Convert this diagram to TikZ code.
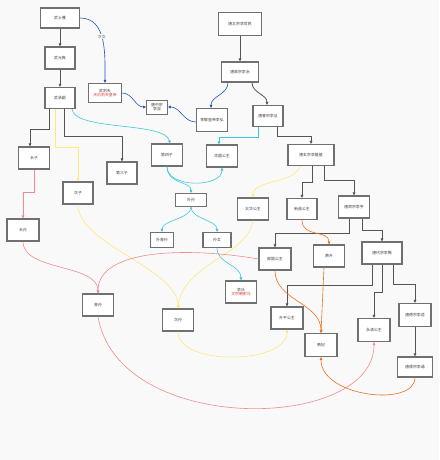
\documentclass[tikz,border=0pt]{standalone}
\usepackage{fontspec}
\newfontfamily\cjk{Noto Sans CJK SC}
\usetikzlibrary{arrows.meta}
\definecolor{bgcol}{HTML}{F9F9F9}
\definecolor{boxgray}{HTML}{707070}
\definecolor{linegray}{HTML}{555555}
\definecolor{blueedge}{HTML}{2056B8}
\definecolor{cyanedge}{HTML}{3CC8DC}
\definecolor{yellowedge}{HTML}{FFE97A}
\definecolor{redpink}{HTML}{EE8C8C}
\definecolor{orangeedge}{HTML}{F0701E}
\definecolor{notered}{HTML}{D83A3A}
\begin{document}
\begin{tikzpicture}[
                x=1pt, y=-1pt,
                person/.style={
                    draw=boxgray,
                    fill=white,
                    rectangle,
                    line width=1.1pt,
                    minimum width=31pt,
                    minimum height=22pt,
                    inner sep=0pt,
                    align=center,
                    font=\cjk\fontsize{3.9}{4.8}\selectfont,
                    text=black!75
                },
                link/.style={
                    -{Triangle[length=3pt,width=2.6pt]},
                    line width=0.6pt
                },
                blackline/.style={link, draw=linegray, line width=0.8pt},
                blueline/.style={link, draw=blueedge},
                cyanline/.style={link, draw=cyanedge},
                yellowline/.style={link, draw=yellowedge},
                redline/.style={link, draw=redpink},
                orangeline/.style={link, draw=orangeedge},
                lbl/.style={fill=bgcol, inner sep=0.8pt, font=\cjk\fontsize{3.9}{4.8}\selectfont, text=black!60}
            ]
    \fill[bgcol] (0,0) rectangle (439,460);

    % Wu family column
    \node[person, minimum width=39pt, minimum height=20pt] (shiyue) at (60,18) {武士彟};
    \node[person, minimum width=30pt] (yuanshuang) at (60,58) {武元爽};
    \node[person, minimum width=30pt, minimum height=21pt] (chengsi) at (60,98) {武承嗣};
    \node[person, minimum width=33pt, minimum height=19pt] (zetian) at (105,93) {武则天\\\textcolor{notered}{天后则天皇帝}};
    \node[person, minimum width=21pt, minimum height=14pt, line width=0.8pt] (zhongzong) at (157,107) {唐中宗\\李显};
    \node[person, minimum width=31pt, minimum height=23pt] (lihong) at (212,120) {孝敬皇帝李弘};

    \node[person] (changzi) at (34,158) {长子};
    \node[person, minimum width=32pt] (changsun) at (23,230) {长孙};
    \node[person, minimum width=30pt] (cizi) at (78,193) {次子};
    \node[person, minimum width=30pt] (sanzi) at (122,173) {第三子};
    \node[person] (sizi) at (167,155) {第四子};
    \node[person] (liangguo) at (222,156) {凉国公主};
    \node[person, minimum height=13pt] (waisun) at (191,200) {外孙};
    \node[person, minimum width=23pt, minimum height=15pt] (zengsun) at (162,240) {外曾孙};
    \node[person, minimum width=28pt, minimum height=15pt] (sunnv) at (217,240) {孙女};
    \node[person] (lishi) at (241,292) {李氏\\\textcolor{notered}{文宗朝驸马}};
    \node[person] (chongsun) at (98,305) {曾孙};
    \node[person] (cisun) at (178,320) {次孙};

    % Tang emperors
    \node[person, minimum width=43pt, minimum height=23pt] (taizong) at (240,24) {唐太宗李世民};
    \node[person, minimum width=37pt, minimum height=20pt] (gaozong) at (240,72) {唐高宗李治};
    \node[person, minimum width=30pt, minimum height=21pt] (ruizong) at (268,116) {唐睿宗李旦};
    \node[person, minimum width=46pt, minimum height=21pt] (xuanzong) at (311,155) {唐玄宗李隆基};
    \node[person] (suzong) at (354,207) {唐肃宗李亨};
    \node[person, minimum width=40pt] (daizong) at (382,253) {唐代宗李豫};
    \node[person, minimum width=32pt, minimum height=23pt] (dezong) at (415,315) {唐德宗李适};
    \node[person, minimum width=35pt, minimum height=20pt] (shunzong) at (415,367) {唐顺宗李诵};

    % princesses and in-laws
    \node[person] (taihua) at (253,209) {太华公主};
    \node[person, minimum width=30pt, minimum height=21pt] (xinchang) at (302,209) {新昌公主};
    \node[person, minimum width=32pt] (gaoguo) at (275,259) {郜国公主};
    \node[person] (xiaosheng) at (329,256) {萧升};
    \node[person, minimum width=32pt] (shengping) at (287,318) {升平公主};
    \node[person, minimum width=32pt, minimum height=23pt] (xiaofei) at (321,345) {萧妃};
    \node[person, minimum width=32pt, minimum height=23pt] (yongqing) at (374,330) {永清公主};

    % black lines
    \draw[blackline] (shiyue) -- (yuanshuang);
    \draw[blackline] (yuanshuang) -- (chengsi);
    \draw[blackline] ([xshift=-11pt]chengsi.south) -- ++(0,20) -| ([xshift=-4pt]changzi.north);
    \draw[blackline] ([xshift=4pt]chengsi.south) -- ++(0,27) -| (sanzi.north);
    \draw[blackline] (taizong) -- (gaozong);
    \draw[blackline] ([xshift=12pt]gaozong.south) to[out=-90,in=90] ([xshift=-1pt]ruizong.north);
    \draw[blackline] ([xshift=9pt]ruizong.south) -- ++(0,9) -| (xuanzong.north);
    \draw[blackline] ([xshift=1pt]xuanzong.south) -- ++(0,16) -| (xinchang.north);
    \draw[blackline] ([xshift=13pt]xuanzong.south) -- ++(0,14) -| (suzong.north);
    \draw[blackline] ([xshift=-5pt]suzong.south) -- ++(0,15) -| (gaoguo.north);
    \draw[blackline] ([xshift=8pt]suzong.south) -- ++(0,12) -| (daizong.north);
    \draw[blackline] ([xshift=-10pt]daizong.south) -- ++(0,21) -| (shengping.north);
    \draw[blackline] (daizong.south) -- ++(0,28) -| (yongqing.north);
    \draw[blackline] ([xshift=11pt]daizong.south) -- ++(0,20) -| (dezong.north);
    \draw[blackline] (dezong) -- (shunzong);

    % blue lines
    \draw[blueline] (shiyue.east) to[out=0,in=90] node[lbl, pos=0.45] {次女} (zetian.north);
    \draw[blueline] (zetian.east) to[out=0,in=180] (zhongzong.west);
    \draw[blueline] ([xshift=-12pt]gaozong.south) to[out=-90,in=90] ([xshift=-1pt]lihong.north);
    \draw[blueline] ([yshift=-2pt]lihong.west) to[out=180,in=0] (zhongzong.east);

    % cyan lines
    \draw[cyanline] ([xshift=12pt]chengsi.south) .. controls +(2,22) and +(-5,-22) .. ([xshift=3pt]sizi.north);
    \draw[cyanline] ([xshift=-10pt]ruizong.south) -- ++(0,10) -| ([xshift=-3pt]liangguo.north);
    \draw[cyanline] (sizi.south) .. controls +(0,22) and +(0,20) .. (liangguo.south);
    \draw[cyanline] (sizi.south) .. controls +(0,18) and +(0,-12) .. (waisun.north);
    \draw[cyanline] (waisun.south) .. controls +(0,12) and +(0,-12) .. (zengsun.north);
    \draw[cyanline] (waisun.south) .. controls +(0,12) and +(0,-12) .. (sunnv.north);
    \draw[cyanline] (sunnv.south) .. controls +(0,16) and +(0,-16) .. (lishi.north);

    % yellow lines
    \draw[yellowline] ([xshift=-5pt]chengsi.south) -- ++(0,38) -| (cizi.north);
    \draw[yellowline] ([xshift=-11pt]xuanzong.south) .. controls +(-5,18) and +(0,-18) .. (taihua.north);
    \draw[yellowline] (taihua.south) .. controls +(-5,35) and +(5,-45) .. (cisun.north);
    \draw[yellowline] (cizi.south) .. controls +(0,40) and +(0,-40) .. (cisun.north);
    \draw[yellowline] (cisun.south) .. controls +(0,35) and +(0,35) .. (shengping.south);

    % red lines
    \draw[redline] (changzi.south) -- ++(0,23) -| (changsun.north);
    \draw[redline] (changsun.south) .. controls +(0,30) and +(0,-30) .. (chongsun.north);
    \draw[redline] (gaoguo.west) .. controls +(-70,-12) and +(0,-45) .. (chongsun.north);
    \draw[redline] (chongsun.south) .. controls +(20,120) and +(0,90) .. (yongqing.south);

    % orange lines
    \draw[orangeline] (xinchang.south) .. controls +(0,18) and +(0,-15) .. (xiaosheng.north);
    \draw[orangeline] ([xshift=-5pt]xiaosheng.south) -- (xiaofei.north);
    \draw[orangeline] (gaoguo.south) .. controls +(0,30) and +(0,-30) .. (xiaofei.north);
    \draw[orangeline] (shunzong.south) .. controls +(0,30) and +(0,40) .. (xiaofei.south);
\end{tikzpicture}
\end{document}
